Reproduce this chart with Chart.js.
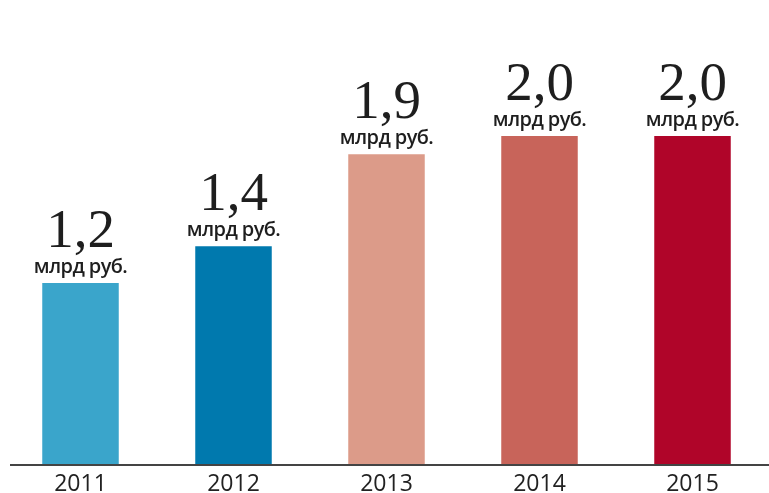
<!DOCTYPE html>
<html>
<head>
<meta charset="utf-8">
<script src="https://cdn.jsdelivr.net/npm/chart.js@4"></script>
<style>
    html, body { margin: 0; padding: 0; background: #fff; overflow: hidden; }
    #wrap { width: 769px; height: 493px; }
</style>
</head>
<body>
<div id="wrap"><canvas id="budgetChart" width="769" height="493"></canvas></div>
<script>
// годы и суммы, млрд руб.
const years = ['2011', '2012', '2013', '2014', '2015'];
const amounts = [1.2, 1.4, 1.9, 2.0, 2.0];
const valueLabels = ['1,2', '1,4', '1,9', '2,0', '2,0'];
const unitLabel = 'млрд руб.';
const barColors = ['#3aa5cb', '#0079ae', '#dc9b89', '#c8645a', '#b00529'];

// ========== подписи над столбцами ==========
const labelPlugin = {
    id: 'barLabels',
    afterDatasetsDraw(chart) {
        const ctx = chart.ctx;
        const meta = chart.getDatasetMeta(0);
        ctx.save();
        ctx.fillStyle = '#1e1e1e';
        ctx.textAlign = 'center';
        ctx.textBaseline = 'alphabetic';
        meta.data.forEach((bar, i) => {
            ctx.font = '55px "Liberation Serif", serif';
            ctx.fillText(valueLabels[i], bar.x, bar.y - 36);
            ctx.font = '600 20px "Open Sans", sans-serif';
            ctx.letterSpacing = '-0.6px';
            ctx.fillText(unitLabel, bar.x, bar.y - 10);
            ctx.letterSpacing = '0px';
        });
        ctx.restore();
    },
    // базовая линия
    afterDraw(chart) {
        const ctx = chart.ctx;
        const y = chart.scales.y.getPixelForValue(chart.scales.y.min);
        ctx.save();
        ctx.strokeStyle = '#444';
        ctx.lineWidth = 2;
        ctx.beginPath();
        ctx.moveTo(10, y);
        ctx.lineTo(chart.width, y);
        ctx.stroke();
        ctx.restore();
    }
};

new Chart(document.getElementById('budgetChart'), {
    type: 'bar',
    data: {
        labels: years,
        datasets: [{
            data: amounts,
            backgroundColor: barColors,
            borderWidth: 0,
            barPercentage: 0.5,
            categoryPercentage: 1
        }]
    },
    options: {
        responsive: false,
        animation: false,
        layout: { padding: { top: 44, left: 4, right: 0, bottom: 0 } },
        plugins: { legend: { display: false }, tooltip: { enabled: false } },
        scales: {
            x: {
                grid: { display: false },
                border: { display: false },
                ticks: {
                    color: '#222',
                    padding: -2,
                    font: { family: '"Open Sans", sans-serif', size: 23 }
                },
                afterFit(scale) { scale.height = 28; }
            },
            y: {
                display: false,
                min: 0.21,
                max: 2.5
            }
        }
    },
    plugins: [labelPlugin]
});
</script>
</body>
</html>
